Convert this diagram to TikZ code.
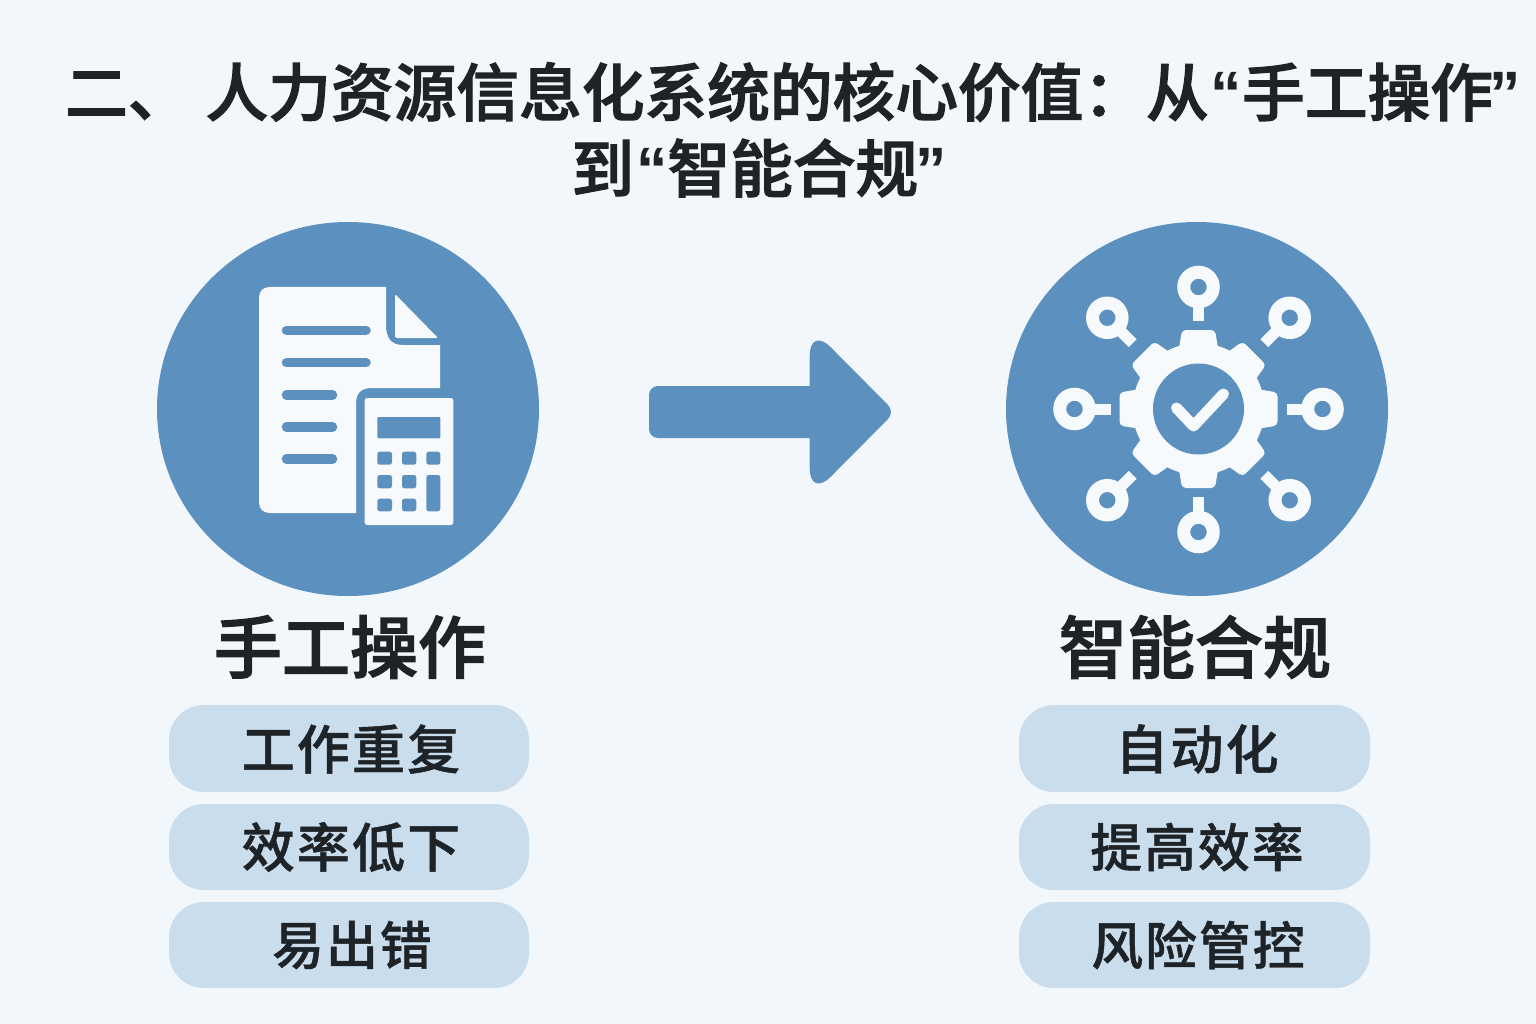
\documentclass[tikz,border=0pt]{standalone}
\usepackage{fontspec}
\setmainfont{Noto Sans CJK SC}
\newfontfamily\cjkhead{Noto Sans CJK SC Medium}[FakeBold=1.9]
\newfontfamily\cjkpill{Noto Sans CJK SC Medium}[FakeBold=0.9,LetterSpace=4]
\newfontfamily\lat{Liberation Sans}
\definecolor{bg}{HTML}{F2F7FC}
\definecolor{blu}{HTML}{5C90BE}
\definecolor{pil}{HTML}{C9DDEC}
\definecolor{ink}{HTML}{1E2327}
\definecolor{wht}{HTML}{F7FAFD}
\tikzset{
  disc/.style={fill=blu,draw=none},
  pillbox/.style={fill=pil,draw=none,rounded corners=35pt},
  pilltext/.style={text=ink,font=\cjkpill\fontsize{53}{60}\selectfont,inner sep=0pt,anchor=center},
  pilltight/.style={text=ink,font=\cjkpill\fontsize{51.8}{60}\selectfont,inner sep=0pt,anchor=center},
  heading/.style={text=ink,font=\cjkhead\fontsize{68}{74}\selectfont,inner sep=0pt,anchor=center},
  titletext/.style={text=ink,font=\cjkhead\fontsize{62.7}{70}\selectfont,inner sep=0pt},
  glyph/.style={fill=wht,draw=none},
  cut/.style={fill=blu,draw=none,rounded corners=2.5pt},
  bar/.style={draw=blu,line width=9.5pt,line cap=round},
  stem/.style={draw=wht,line width=11pt},
  ring/.style={draw=wht,line width=13pt,fill=blu}
}
\newcommand{\qa}{\hspace{2pt}{\lat\bfseries “}}
\newcommand{\qb}{\hspace{-3pt}{\lat\bfseries ”}}
\begin{document}
\begin{tikzpicture}[x=1pt,y=-1pt]
\useasboundingbox (0,0) rectangle (1536,1024);
\fill[bg] (0,0) rectangle (1536,1024);

% title
\node[titletext,anchor=west] (t1) at (65,92) {二、\hspace{15pt}人力资源信息化系统的核心价值：从\qa 手工操作\qb};
\node[titletext,anchor=center] (t2) at (759,168) {到\qa 智能合规\qb};

% discs
\fill[disc] (348,409) ellipse [x radius=191,y radius=187];
\fill[disc] (1197,409) ellipse [x radius=191,y radius=187];

% document
\path[glyph,rounded corners=0pt]
  (270,287) -- (386,287) -- (386,325)
  .. controls (386,338) and (391,345) .. (403,345)
  -- (440,345) -- (440,388) -- (372,388)
  .. controls (361,388) and (356,393) .. (356,404)
  -- (356,513) -- (270,513)
  .. controls (263,513) and (259,509) .. (259,502)
  -- (259,298)
  .. controls (259,291) and (263,287) .. (270,287) -- cycle;
\path[glyph,rounded corners=1.5pt] (395,294) -- (438,338) -- (395,338) -- cycle;
\foreach \yy/\xe in {330.3/366,362.7/366,395/332.5,427/332.5,459/332.5}
  \draw[bar] (286.5,\yy) -- (\xe,\yy);

% calculator
\path[glyph,rounded corners=2.5pt] (364.7,398) rectangle (453.3,525);
\path[cut,rounded corners=1pt] (377.3,417) rectangle (440.3,438.3);
\foreach \xa/\xb in {377.3/392,402/416.3,426.3/440.3}
  \path[cut] (\xa,451.7) rectangle (\xb,464.7);
\foreach \xa/\xb in {377.3/392,402/416.3}{
  \path[cut] (\xa,475) rectangle (\xb,488.3);
  \path[cut] (\xa,498.7) rectangle (\xb,511.3);
}
\path[cut] (426.3,475) rectangle (440.3,511.3);

% arrow
\fill[blu]
  (700,386) -- (809.7,386)
  [rounded corners=30pt] -- (809.7,326) [rounded corners=10pt] -- (895,412) [rounded corners=30pt] -- (809.7,498)
  [sharp corners] -- (809.7,438)
  [rounded corners=9pt] -- (649,438) -- (649,386) [sharp corners] -- (700,386) -- cycle;

% gear and spokes
\begin{scope}[shift={(1198.5,409)}]
  \foreach \a in {0,45,...,315}{
    \begin{scope}[rotate=\a]
      \path[glyph,rounded corners=4pt] (-16.5,-79) -- (16.5,-79) -- (20,-58) -- (-20,-58) -- cycle;
    \end{scope}
  }
  \fill[wht] (0,0) circle (66);
  \fill[blu] (0,0) circle (45.5);
  \draw[wht,line width=11pt,line cap=round,line join=round] (-22,-1) -- (-5,17) -- (25,-15);
  \foreach \a/\d/\s in {0/124/88,90/122/88,180/124/88,270/123/88,45/129/93,135/129/93,225/129/93,315/129/93}{
    \begin{scope}[rotate=\a]
      \draw[stem] (\s,0) -- (\d-14,0);
      \draw[ring] (\d,0) circle (14.75);
    \end{scope}
  }
\end{scope}

% headings
\node[heading] (h1) at (350,647) {手工操作};
\node[heading] (h2) at (1195,647) {智能合规};

% pills left
\path[pillbox] (169,705) rectangle (529,792);
\path[pillbox] (169,804) rectangle (529,890);
\path[pillbox] (169,902) rectangle (529,988);
\node[pilltext] (a1) at (351,749) {工作重复};
\node[pilltext] (a2) at (351,847) {效率低下};
\node[pilltight] (a3) at (352,945) {易出错};

% pills right
\path[pillbox] (1019,705) rectangle (1370,792);
\path[pillbox] (1019,804) rectangle (1370,890);
\path[pillbox] (1019,902) rectangle (1370,988);
\node[pilltext] (b1) at (1197,749) {自动化};
\node[pilltight] (b2) at (1197,847) {提高效率};
\node[pilltight] (b3) at (1198,945) {风险管控};
\end{tikzpicture}
\end{document}
